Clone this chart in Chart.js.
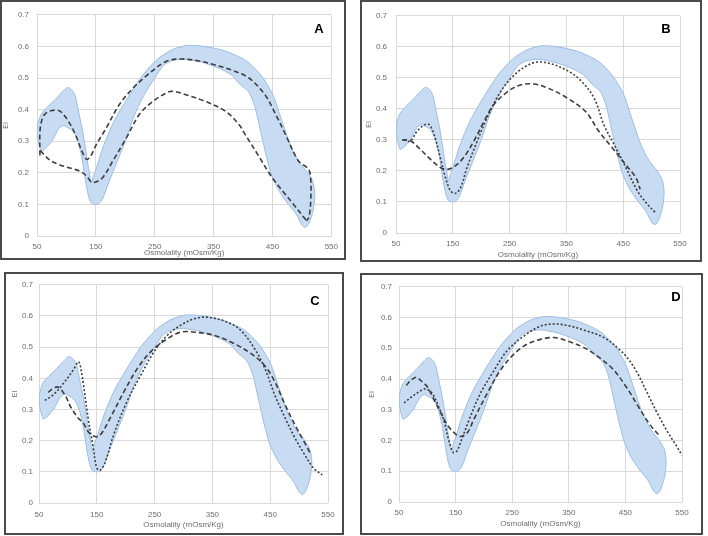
<!DOCTYPE html>
<html>
<head>
<meta charset="utf-8">
<script src="https://cdn.jsdelivr.net/npm/chart.js@4.4.1/dist/chart.umd.min.js"></script>
<style>
  html, body { margin: 0; padding: 0; background: #ffffff; width: 708px; height: 536px; overflow: hidden; }
  .panel { position: absolute; box-sizing: border-box; border: 2px solid #4a4a4a; background: #fff; }
  .panel canvas { display: block; }
  .tag { position: absolute; font: bold 13px "Liberation Sans", Arial, sans-serif; color: #000; transform: translate(-50%, -50%); }
</style>
</head>
<body>
<script>
// ---------- DATA ----------
const xTicks = [50, 150, 250, 350, 450, 550];
const yTicks = [0, 0.1, 0.2, 0.3, 0.4, 0.5, 0.6, 0.7];
const xTitle = 'Osmolality (mOsm/Kg)';
const yTitle = 'EI';
const panelTags = ['A', 'B', 'C', 'D'];

// reference range band (closed outline)
const bandX = [51, 51, 57, 66, 80, 95, 102, 110, 115, 121, 127, 132, 136, 140, 142, 146, 151, 162, 180, 205, 230, 255, 280, 305, 335, 370, 405, 430, 450, 465, 480, 495, 510, 519, 522, 519, 512, 506, 500, 490, 477, 462, 449, 440, 430, 420, 410, 395, 380, 360, 330, 300, 280, 265, 250, 230, 215, 200, 185, 172, 162, 155, 148, 142, 137, 132, 127, 121, 115, 108, 100, 95, 87, 75, 63, 57, 51];
const bandY = [0.31, 0.35, 0.385, 0.405, 0.43, 0.46, 0.47, 0.46, 0.443, 0.39, 0.337, 0.28, 0.231, 0.19, 0.168, 0.19, 0.215, 0.28, 0.36, 0.44, 0.51, 0.56, 0.59, 0.603, 0.6, 0.585, 0.555, 0.51, 0.45, 0.37, 0.29, 0.235, 0.2, 0.17, 0.13, 0.08, 0.04, 0.027, 0.035, 0.07, 0.10, 0.14, 0.19, 0.25, 0.33, 0.41, 0.455, 0.48, 0.51, 0.53, 0.55, 0.56, 0.555, 0.54, 0.50, 0.44, 0.38, 0.30, 0.23, 0.17, 0.12, 0.102, 0.10, 0.105, 0.13, 0.18, 0.24, 0.29, 0.32, 0.337, 0.345, 0.35, 0.34, 0.30, 0.275, 0.27, 0.31];

// Panel A
const a1X = [55, 55, 58, 63, 75, 89, 103, 115, 126, 134, 140, 151, 168, 190, 213, 241, 269, 292, 325, 353, 381, 410, 438, 454, 472, 494, 511, 515, 515, 512, 508];
const a1Y = [0.255, 0.33, 0.365, 0.385, 0.397, 0.395, 0.364, 0.322, 0.27, 0.243, 0.249, 0.29, 0.343, 0.416, 0.468, 0.515, 0.552, 0.56, 0.554, 0.541, 0.525, 0.5, 0.445, 0.39, 0.322, 0.238, 0.212, 0.18, 0.11, 0.06, 0.048];
const a2X = [55.6, 72, 89, 106, 123, 134, 143, 151, 162, 179, 202, 224, 247, 269, 280, 303, 336, 370, 393, 404, 426, 449, 471, 488, 505, 508];
const a2Y = [0.27, 0.24, 0.225, 0.215, 0.205, 0.19, 0.17, 0.172, 0.186, 0.238, 0.311, 0.385, 0.426, 0.452, 0.458, 0.447, 0.426, 0.395, 0.353, 0.32, 0.255, 0.186, 0.134, 0.095, 0.055, 0.048];

// Panel B
const b1X = [60.6, 75, 93, 111, 128, 140, 152, 169, 187, 205, 222, 246, 269, 293, 316, 348, 384, 407, 431, 454, 472, 480];
const b1Y = [0.30, 0.298, 0.269, 0.237, 0.211, 0.205, 0.213, 0.243, 0.296, 0.36, 0.413, 0.455, 0.477, 0.48, 0.468, 0.439, 0.391, 0.328, 0.274, 0.221, 0.179, 0.141];
const b2X = [64, 75, 87, 99, 108, 117, 128, 137, 146, 155, 164, 175, 193, 210, 234, 258, 281, 299, 322, 351, 375, 399, 416, 434, 452, 475, 492, 506];
const b2Y = [0.30, 0.296, 0.328, 0.347, 0.35, 0.317, 0.243, 0.179, 0.136, 0.128, 0.147, 0.211, 0.296, 0.37, 0.455, 0.509, 0.54, 0.551, 0.546, 0.524, 0.492, 0.434, 0.349, 0.285, 0.221, 0.136, 0.094, 0.067];

// Panel C
const c1X = [60, 74, 92, 109, 118, 121, 127, 135, 144, 150, 156, 165, 179, 202, 226, 249, 272, 295, 319, 342, 376, 399, 423, 441, 458, 476, 493, 510, 525, 540];
const c1Y = [0.329, 0.346, 0.383, 0.426, 0.453, 0.444, 0.378, 0.272, 0.176, 0.112, 0.105, 0.133, 0.218, 0.325, 0.41, 0.485, 0.538, 0.57, 0.591, 0.596, 0.58, 0.554, 0.495, 0.431, 0.346, 0.272, 0.208, 0.154, 0.112, 0.09];
const c2X = [66, 74, 83, 95, 106, 118, 127, 135, 147, 156, 173, 197, 220, 243, 272, 295, 319, 353, 388, 417, 440, 458, 476, 493, 510, 519];
const c2Y = [0.355, 0.367, 0.372, 0.346, 0.304, 0.272, 0.256, 0.229, 0.213, 0.218, 0.272, 0.357, 0.431, 0.485, 0.527, 0.548, 0.548, 0.538, 0.511, 0.479, 0.442, 0.389, 0.314, 0.25, 0.192, 0.16];

// Panel D
const d1X = [63, 71, 81, 88, 100, 112, 124, 135, 147, 158, 171, 182, 206, 229, 253, 276, 300, 324, 347, 376, 400, 428, 453, 475, 494, 511];
const d1Y = [0.379, 0.396, 0.406, 0.396, 0.375, 0.332, 0.29, 0.252, 0.226, 0.213, 0.226, 0.268, 0.354, 0.428, 0.481, 0.513, 0.529, 0.535, 0.524, 0.503, 0.475, 0.432, 0.37, 0.304, 0.25, 0.214];
const d2X = [59, 71, 85, 96, 108, 120, 130, 138, 146, 152, 160, 174, 194, 218, 241, 271, 300, 324, 353, 382, 412, 437, 453, 471, 488, 506, 524, 541, 550];
const d2Y = [0.322, 0.34, 0.358, 0.368, 0.355, 0.31, 0.26, 0.2, 0.161, 0.165, 0.2, 0.268, 0.354, 0.428, 0.492, 0.54, 0.572, 0.579, 0.572, 0.556, 0.535, 0.5, 0.47, 0.42, 0.357, 0.29, 0.23, 0.18, 0.152];

// ---------- LAYOUT / STYLE ----------
const LONG = [5, 3];
const SHORT = [2, 2];
const panels = [
  { tag: 'A', box: [0, 0, 346, 260],   yW: 35, padTop: 11, padRight: 11, xH: 22, yTickPad: 8, yTitlePad: 0,   xTickPad: 6,   xTitlePad: 0,   tagPos: [319, 28],
    series: [[a1X, a1Y, LONG], [a2X, a2Y, LONG]] },
  { tag: 'B', box: [360, 0, 702, 262], yW: 34, padTop: 11, padRight: 20, xH: 27, yTickPad: 9, yTitlePad: 3,   xTickPad: 5.5, xTitlePad: 0,   tagPos: [666, 28],
    series: [[b1X, b1Y, LONG], [b2X, b2Y, SHORT]] },
  { tag: 'C', box: [4, 272, 344, 535], yW: 33, padTop: 10, padRight: 14, xH: 30, yTickPad: 6, yTitlePad: 4.5, xTickPad: 7,   xTitlePad: 3,   tagPos: [315, 300],
    series: [[c1X, c1Y, SHORT], [c2X, c2Y, LONG]] },
  { tag: 'D', box: [360, 273, 703, 535], yW: 37, padTop: 8, padRight: 19, xH: 31, yTickPad: 7, yTitlePad: 5.5, xTickPad: 5.5, xTitlePad: 4,   tagPos: [676, 296],
    series: [[d1X, d1Y, LONG], [d2X, d2Y, SHORT]] }
];

const BORDER = 2;
const tickColor = '#6e6e6e';
const tickFont = { family: '"Liberation Sans", Arial, sans-serif', size: 8 };

function pts(xs, ys) { return xs.map((x, i) => ({ x: x, y: ys[i] })); }

panels.forEach(p => {
  const [l, t, r, b] = p.box;
  const div = document.createElement('div');
  div.className = 'panel';
  div.style.left = l + 'px'; div.style.top = t + 'px';
  div.style.width = (r - l) + 'px'; div.style.height = (b - t) + 'px';
  const cv = document.createElement('canvas');
  const cw = r - l - 2 * BORDER, ch = b - t - 2 * BORDER;
  cv.width = cw; cv.height = ch;
  cv.style.width = cw + 'px'; cv.style.height = ch + 'px';
  div.appendChild(cv);
  document.body.appendChild(div);

  const tag = document.createElement('div');
  tag.className = 'tag';
  tag.textContent = p.tag;
  tag.style.left = p.tagPos[0] + 'px'; tag.style.top = p.tagPos[1] + 'px';
  document.body.appendChild(tag);

  const datasets = p.series.map(s => ({
    data: pts(s[0], s[1]),
    showLine: true,
    borderColor: '#3d3d3d',
    borderWidth: 1.6,
    borderDash: s[2],
    pointRadius: 0,
    tension: 0.35,
    fill: false,
    order: 0
  }));
  datasets.push({
    data: pts(bandX, bandY),
    showLine: true,
    borderColor: '#9dbde2',
    borderWidth: 1,
    backgroundColor: '#c7dbf2',
    fill: 'shape',
    pointRadius: 0,
    tension: 0.25,
    order: 5
  });

  new Chart(cv, {
    type: 'scatter',
    data: { datasets: datasets },
    options: {
      responsive: false,
      animation: false,
      devicePixelRatio: 1,
      layout: { padding: { top: p.padTop, right: p.padRight, left: 0, bottom: 0 } },
      plugins: { legend: { display: false }, tooltip: { enabled: false } },
      scales: {
        x: {
          type: 'linear', min: xTicks[0], max: xTicks[xTicks.length - 1],
          afterBuildTicks: s => { s.ticks = xTicks.map(v => ({ value: v })); },
          ticks: { padding: p.xTickPad, color: tickColor, font: tickFont, maxRotation: 0, autoSkip: false },
          grid: { color: '#d9d9d9', lineWidth: 1, drawTicks: false },
          border: { display: false },
          title: { display: true, text: xTitle, color: tickColor, font: tickFont, padding: { top: 0, bottom: p.xTitlePad } },
          afterFit: s => { s.height = p.xH; }
        },
        y: {
          type: 'linear', min: yTicks[0], max: yTicks[yTicks.length - 1],
          afterBuildTicks: s => { s.ticks = yTicks.map(v => ({ value: v })); },
          ticks: { padding: p.yTickPad, color: tickColor, font: tickFont, callback: v => String(+v.toFixed(1)) },
          grid: { color: '#d9d9d9', lineWidth: 1, drawTicks: false },
          border: { display: false },
          title: { display: true, text: yTitle, color: tickColor, font: { family: tickFont.family, size: 7 }, padding: { top: p.yTitlePad, bottom: 0 } },
          afterFit: s => { s.width = p.yW; }
        }
      }
    }
  });
});
</script>
</body>
</html>
